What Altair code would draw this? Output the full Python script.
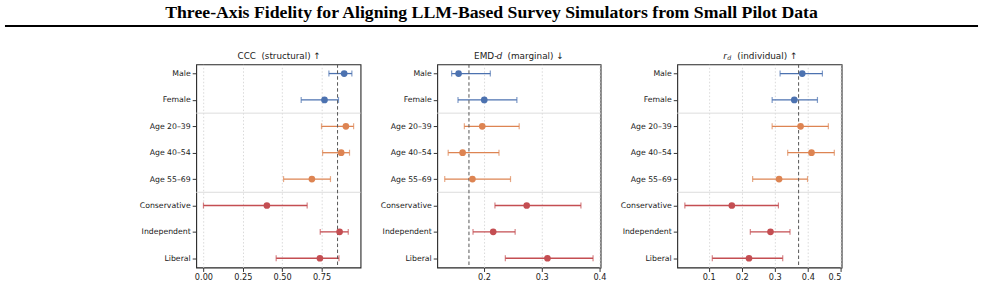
import altair as alt
import pandas as pd

# ---------------- data ----------------
groups = ["Male", "Female", "Age 20–39", "Age 40–54", "Age 55–69",
          "Conservative", "Independent", "Liberal"]
families = ["sex", "sex", "age", "age", "age", "pol", "pol", "pol"]

ccc_mean = [0.894, 0.769, 0.905, 0.875, 0.689, 0.403, 0.865, 0.740]
ccc_lo = [0.797, 0.621, 0.750, 0.757, 0.509, 0.000, 0.742, 0.462]
ccc_hi = [0.943, 0.858, 0.954, 0.928, 0.807, 0.659, 0.920, 0.861]
ccc_ref = 0.852

emd_mean = [0.156, 0.2005, 0.197, 0.163, 0.180, 0.274, 0.216, 0.310]
emd_lo = [0.144, 0.155, 0.166, 0.138, 0.132, 0.219, 0.181, 0.237]
emd_hi = [0.211, 0.257, 0.261, 0.226, 0.246, 0.368, 0.254, 0.389]
emd_ref = 0.174

rd_mean = [0.383, 0.359, 0.378, 0.411, 0.313, 0.170, 0.287, 0.222]
rd_lo = [0.316, 0.292, 0.292, 0.339, 0.233, 0.028, 0.226, 0.111]
rd_hi = [0.444, 0.429, 0.462, 0.480, 0.399, 0.311, 0.346, 0.324]
rd_ref = 0.372

separators = [1.5, 4.5]

family_domain = ["sex", "age", "pol"]
family_colors = ["#4C72B0", "#DD8452", "#C44E52"]

title_text = "Three-Axis Fidelity for Aligning LLM-Based Survey Simulators from Small Pilot Data"

# ---------------- layout constants ----------------
PH = 204
FONT = "DejaVu Sans"
TXT = "#222222"
P1_LEFT = 195   # page x of first plot's left edge
P_TOP = 64      # page y of plots' top edge

label_expr = "[" + ",".join("'" + g + "'" for g in groups) + "][datum.value]"


def panel(mean, lo, hi, ref, domain, ticks, fmt, width, title_parts, extra=None):
    df = pd.DataFrame({"idx": list(range(len(groups))), "group": groups,
                       "fam": families, "mean": mean, "lo": lo, "hi": hi})
    sep_df = pd.DataFrame({"y": separators})
    ref_df = pd.DataFrame({"ref": [ref]})

    xscale = alt.Scale(domain=domain, nice=False, zero=False)
    yscale = alt.Scale(domain=[-0.35, len(groups) - 0.65], reverse=True, nice=False, zero=False)
    color = alt.Color("fam:N", scale=alt.Scale(domain=family_domain, range=family_colors), legend=None)

    xaxis = alt.Axis(values=ticks, format=fmt, grid=True, gridDash=[1.5, 2],
                     gridColor="#d0d0d0", gridWidth=0.8, domain=False,
                     tickColor="#333333", tickSize=4, labelPadding=2,
                     labelFontSize=8.2, labelColor=TXT, labelFont=FONT, title=None)
    yaxis = alt.Axis(values=list(range(len(groups))), labelExpr=label_expr, grid=False,
                     domain=False, tickColor="#333333", tickSize=4, labelPadding=2,
                     labelFontSize=7.8, labelColor=TXT, labelFont=FONT, title=None)

    base = alt.Chart(df)

    err = base.mark_rule(strokeWidth=1.3).encode(
        x=alt.X("lo:Q", scale=xscale, axis=xaxis),
        x2="hi:Q",
        y=alt.Y("idx:Q", scale=yscale, axis=yaxis),
        color=color,
    )
    seps = alt.Chart(sep_df).mark_rule(color="#dddddd", strokeWidth=1).encode(
        y=alt.Y("y:Q", scale=yscale, axis=yaxis)
    )
    refl = alt.Chart(ref_df).mark_rule(color="#555555", strokeDash=[3.5, 2.5], strokeWidth=1).encode(
        x=alt.X("ref:Q", scale=xscale, axis=xaxis)
    )
    cap_lo = base.mark_tick(orient="vertical", size=6, thickness=1.2).encode(
        x=alt.X("lo:Q", scale=xscale, axis=xaxis), y=alt.Y("idx:Q", scale=yscale, axis=yaxis), color=color)
    cap_hi = base.mark_tick(orient="vertical", size=6, thickness=1.2).encode(
        x=alt.X("hi:Q", scale=xscale, axis=xaxis), y=alt.Y("idx:Q", scale=yscale, axis=yaxis), color=color)
    pts = base.mark_circle(size=45, opacity=1).encode(
        x=alt.X("mean:Q", scale=xscale, axis=xaxis), y=alt.Y("idx:Q", scale=yscale, axis=yaxis), color=color)

    layers = [err, seps, refl, cap_lo, cap_hi, pts]
    for (txt, xoff, yoff, size, style) in title_parts:
        layers.append(
            alt.Chart(pd.DataFrame({"t": [txt]})).mark_text(
                font=FONT, fontSize=size, fontStyle=style, color=TXT,
                align="left", baseline="middle"
            ).encode(text="t:N", x=alt.value(xoff), y=alt.value(yoff))
        )
    if extra:
        layers.extend(extra)
    return alt.layer(*layers).properties(width=width, height=PH)


# page header (title + rule), drawn relative to the first panel's plot area
header_df = pd.DataFrame({"t": [title_text]})
header_text = alt.Chart(header_df).mark_text(
    font="Liberation Serif", fontWeight="bold", fontSize=17.8, color="#000000",
    align="center", baseline="middle"
).encode(text="t:N", x=alt.value(491.5 - P1_LEFT), y=alt.value(12 - P_TOP))
header_rule = alt.Chart(header_df).mark_rule(color="#000000", strokeWidth=2).encode(
    x=alt.value(3 - P1_LEFT), x2=alt.value(980 - P1_LEFT), y=alt.value(25.5 - P_TOP)
)

p1 = panel(ccc_mean, ccc_lo, ccc_hi, ccc_ref, [-0.046, 0.998],
           [0.0, 0.25, 0.5, 0.75], ".2f", 165,
           [("CCC\u00a0\u00a0(structural)\u00a0↑", 41.5, -8, 8.8, "normal")],
           extra=[header_text, header_rule])
p2 = panel(emd_mean, emd_lo, emd_hi, emd_ref, [0.119, 0.402],
           [0.2, 0.3, 0.4], ".1f", 164,
           [("EMD-", 37, -8, 8.9, "normal"),
            ("d", 59.5, -8, 8.9, "italic"),
            ("(marginal)\u00a0↓", 70.5, -8, 8.9, "normal")])
p3 = panel(rd_mean, rd_lo, rd_hi, rd_ref, [0.005, 0.502],
           [0.1, 0.2, 0.3, 0.4, 0.5], ".1f", 165,
           [("r", 46.3, -8, 8.9, "italic"),
            ("d", 50.2, -6.3, 6.2, "italic"),
            ("(individual)\u00a0↑", 60.3, -8, 8.9, "normal")])

chart = alt.hconcat(p1, p2, p3, spacing=77, bounds="flush").properties(
    padding={"left": 3, "top": 2, "right": 5, "bottom": 0}
).configure(background="white").configure_view(stroke="#262626", strokeWidth=1.1)

chart.save("out.html", embed_options={"renderer": "svg", "actions": False})
